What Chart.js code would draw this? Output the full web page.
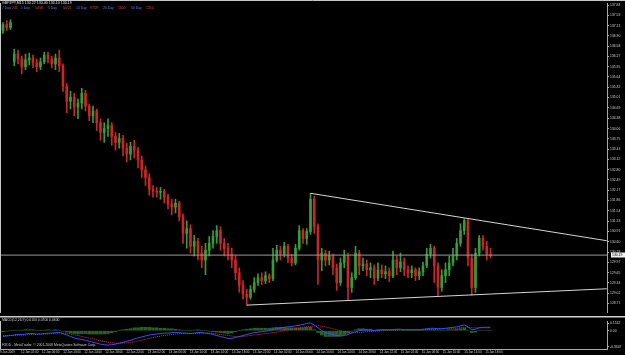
<!DOCTYPE html>
<html>
<head>
<meta charset="utf-8">
<script src="https://cdn.jsdelivr.net/npm/chart.js@4.4.1/dist/chart.umd.min.js"></script>
<style>
  html, body { margin: 0; padding: 0; background: #000; }
  #wrap { position: relative; width: 625px; height: 355px; overflow: hidden; background: #000;
          font-family: "Liberation Sans", Arial, sans-serif; }
  canvas { position: absolute; left: 0; }
  #main { top: 0; }
  #ind { top: 318px; }
  .line { position: absolute; left: 0; width: 625px; height: 1px; }
  .txt { position: absolute; white-space: nowrap; line-height: 1; }
</style>
</head>
<body>
<div id="wrap">
  <canvas id="main" width="625" height="316"></canvas>
  <div class="line" style="top:316px;background:#d0d0d0"></div>
  <div class="line" style="top:317px;background:#6a6a6a"></div>
  <canvas id="ind" width="625" height="37"></canvas>
  <div id="head" class="txt" style="left:2px;top:2px;font-size:3.6px;color:#e6e6e6"></div>
  <div id="stats"></div>
  <div id="indTitle" class="txt" style="left:2px;top:319px;font-size:3.4px;color:#d0d0d0"></div>
  <div id="foot" class="txt" style="left:2px;top:344px;font-size:3.4px;color:#c8c8c8">FXDD - MetaTrader, © 2001-2008 MetaQuotes Software Corp.</div>
</div>
<script>
// GBPJPY M15, 9-15 Jan 2009
const symbol = 'GBPJPY,M15';

const opens = [
  137.06, 137.24, 137.15, 136.10, 136.34, 136.19, 135.95, 136.16, 136.22, 136.07,
  135.95, 136.10, 136.31, 136.19, 136.04, 136.22, 135.98, 135.35, 134.90, 135.02,
  134.72, 134.84, 135.14, 134.75, 134.45, 134.60, 134.24, 133.94, 134.06, 134.15,
  133.82, 133.64, 133.76, 133.46, 133.28, 133.52, 133.40, 133.10, 132.80, 132.56,
  132.20, 132.14, 132.11, 132.14, 131.96, 131.75, 131.66, 131.78, 131.36, 130.85,
  131.00, 130.46, 130.61, 130.25, 130.04, 130.34, 130.55, 130.76, 130.94, 130.55,
  130.40, 130.22, 130.04, 129.65, 129.26, 128.99, 128.90, 129.14, 129.35, 129.50,
  129.41, 129.56, 129.47, 130.04, 130.34, 130.22, 130.46, 130.10, 129.95, 130.40,
  130.94, 130.70, 130.91, 131.90, 131.06, 130.04, 130.25, 130.04, 130.16, 129.80,
  129.35, 129.95, 130.16, 129.20, 129.50, 130.25, 129.86, 129.92, 129.74, 129.80,
  129.50, 129.74, 129.62, 129.68, 129.56, 130.04, 129.80, 129.98, 129.74, 129.65,
  129.74, 129.56, 129.68, 129.86, 130.22, 130.40, 129.86, 129.20, 129.56, 129.74,
  129.95, 130.16, 130.55, 130.94, 131.24, 130.10, 129.20, 130.25, 130.70, 130.46,
  130.22
];
const highs = [
  137.30, 137.36, 137.39, 136.49, 136.46, 136.28, 136.34, 136.37, 136.31, 136.19,
  136.22, 136.40, 136.40, 136.28, 136.34, 136.46, 136.04, 135.44, 135.20, 135.14,
  134.96, 135.29, 135.23, 134.81, 134.75, 134.66, 134.36, 134.24, 134.36, 134.24,
  133.94, 133.91, 133.85, 133.61, 133.64, 133.70, 133.49, 133.22, 132.92, 132.68,
  132.32, 132.26, 132.26, 132.20, 132.05, 131.90, 131.90, 131.84, 131.45, 131.24,
  131.12, 130.79, 130.70, 130.46, 130.55, 130.76, 130.94, 131.09, 131.06, 130.70,
  130.55, 130.40, 130.16, 129.80, 129.41, 129.14, 129.26, 129.50, 129.62, 129.65,
  129.68, 129.62, 130.40, 130.49, 130.46, 130.58, 130.52, 130.22, 130.52, 131.09,
  131.00, 131.00, 132.08, 131.99, 131.15, 130.40, 130.34, 130.31, 130.22, 129.92,
  130.10, 130.34, 130.25, 129.65, 130.46, 130.34, 130.10, 130.04, 129.95, 129.89,
  129.95, 129.89, 129.86, 129.80, 130.31, 130.16, 130.25, 130.10, 129.86, 129.86,
  129.80, 129.80, 129.98, 130.40, 130.52, 130.46, 129.95, 129.74, 129.95, 130.16,
  130.40, 130.70, 131.15, 131.30, 131.30, 130.22, 130.40, 130.79, 130.79, 130.61,
  130.40
];
const lows = [
  136.97, 137.06, 137.09, 135.98, 136.04, 135.74, 135.86, 136.01, 135.92, 135.80,
  135.86, 136.04, 136.07, 135.92, 135.86, 135.80, 135.20, 134.54, 134.66, 134.45,
  134.36, 134.66, 134.60, 134.30, 134.24, 134.00, 133.70, 133.64, 133.82, 133.55,
  133.40, 133.46, 133.22, 133.04, 133.10, 133.16, 132.86, 132.56, 132.32, 132.02,
  131.96, 131.96, 131.90, 131.78, 131.60, 131.42, 131.48, 131.24, 130.55, 130.40,
  130.25, 130.16, 130.04, 129.80, 129.59, 130.16, 130.40, 130.55, 130.34, 130.16,
  130.04, 129.80, 129.44, 129.05, 128.84, 128.66, 128.84, 129.05, 129.26, 129.29,
  129.32, 129.35, 129.41, 129.98, 130.04, 130.13, 129.95, 129.86, 129.89, 130.34,
  130.55, 130.52, 130.82, 130.85, 129.29, 129.71, 129.86, 129.89, 129.59, 129.11,
  129.26, 129.80, 128.81, 129.05, 129.44, 129.59, 129.71, 129.56, 129.50, 129.29,
  129.41, 129.50, 129.47, 129.38, 129.50, 129.59, 129.68, 129.56, 129.50, 129.50,
  129.41, 129.44, 129.56, 129.80, 130.10, 129.35, 128.96, 129.08, 129.35, 129.56,
  129.86, 130.04, 130.46, 130.82, 129.86, 128.96, 129.05, 130.16, 130.34, 130.04,
  130.10
];
const closes = [
  137.24, 137.15, 137.30, 136.34, 136.19, 135.95, 136.16, 136.22, 136.07, 135.95,
  136.10, 136.31, 136.19, 136.04, 136.22, 135.98, 135.35, 134.90, 135.02, 134.72,
  134.84, 135.14, 134.75, 134.45, 134.60, 134.24, 133.94, 134.06, 134.15, 133.82,
  133.64, 133.76, 133.46, 133.28, 133.52, 133.40, 133.10, 132.80, 132.56, 132.20,
  132.14, 132.11, 132.14, 131.96, 131.75, 131.66, 131.78, 131.36, 130.85, 131.00,
  130.46, 130.61, 130.25, 130.04, 130.34, 130.55, 130.76, 130.94, 130.55, 130.40,
  130.22, 130.04, 129.65, 129.26, 128.99, 128.90, 129.14, 129.35, 129.50, 129.41,
  129.56, 129.47, 130.04, 130.34, 130.22, 130.46, 130.10, 129.95, 130.40, 130.94,
  130.70, 130.91, 131.90, 131.06, 130.04, 130.25, 130.04, 130.16, 129.80, 129.35,
  129.95, 130.16, 129.20, 129.50, 130.25, 129.86, 129.92, 129.74, 129.80, 129.50,
  129.74, 129.62, 129.68, 129.56, 130.04, 129.80, 129.98, 129.74, 129.65, 129.74,
  129.56, 129.68, 129.86, 130.22, 130.40, 129.86, 129.20, 129.56, 129.74, 129.95,
  130.16, 130.55, 130.94, 131.24, 130.10, 129.20, 130.25, 130.70, 130.46, 130.22,
  130.19
];

// MACD(12,26,9) panel
const macdMain = [
  -0.12, -0.11, -0.10, -0.09, -0.08, -0.08, -0.07, -0.06, -0.06, -0.07,
  -0.07, -0.06, -0.05, -0.05, -0.04, -0.04, -0.06, -0.09, -0.12, -0.15,
  -0.17, -0.18, -0.20, -0.22, -0.24, -0.26, -0.28, -0.29, -0.30, -0.29,
  -0.28, -0.26, -0.24, -0.22, -0.20, -0.17, -0.15, -0.13, -0.11, -0.09,
  -0.08, -0.07, -0.06, -0.05, -0.05, -0.04, -0.04, -0.04, -0.05, -0.05,
  -0.06, -0.05, -0.04, -0.04, -0.05, -0.06, -0.08, -0.10, -0.12, -0.14,
  -0.16, -0.16, -0.14, -0.12, -0.10, -0.08, -0.06, -0.04, -0.03, -0.02,
  -0.01, 0.00, 0.02, 0.04, 0.06, 0.07, 0.08, 0.09, 0.10, 0.11,
  0.13, 0.15, 0.16, 0.12, 0.06, 0.00, -0.04, -0.06, -0.08, -0.10,
  -0.11, -0.10, -0.08, -0.05, -0.02, 0.00, 0.01, 0.01, 0.01, 0.00,
  0.01, 0.02, 0.02, 0.02, 0.02, 0.03, 0.03, 0.02, 0.02, 0.02,
  0.02, 0.02, 0.03, 0.04, 0.05, 0.05, 0.04, 0.04, 0.05, 0.06,
  0.07, 0.08, 0.10, 0.12, 0.08, 0.02, 0.03, 0.06, 0.07, 0.07,
  0.07
];
const macdSignal = [
  -0.10, -0.10, -0.10, -0.10, -0.09, -0.09, -0.09, -0.08, -0.08, -0.08,
  -0.07, -0.07, -0.07, -0.06, -0.06, -0.05, -0.05, -0.06, -0.07, -0.09,
  -0.10, -0.12, -0.14, -0.15, -0.17, -0.19, -0.21, -0.22, -0.24, -0.25,
  -0.26, -0.26, -0.26, -0.25, -0.24, -0.23, -0.21, -0.20, -0.18, -0.16,
  -0.14, -0.13, -0.11, -0.10, -0.09, -0.08, -0.07, -0.06, -0.06, -0.06,
  -0.06, -0.06, -0.06, -0.05, -0.05, -0.05, -0.06, -0.07, -0.08, -0.09,
  -0.10, -0.11, -0.12, -0.12, -0.12, -0.11, -0.10, -0.09, -0.08, -0.07,
  -0.06, -0.05, -0.04, -0.03, -0.01, 0.00, 0.02, 0.03, 0.04, 0.05,
  0.07, 0.08, 0.09, 0.10, 0.10, 0.09, 0.08, 0.06, 0.04, 0.02,
  0.00, -0.02, -0.03, -0.04, -0.04, -0.04, -0.03, -0.02, -0.02, -0.01,
  -0.01, 0.00, 0.00, 0.01, 0.01, 0.01, 0.02, 0.02, 0.02, 0.02,
  0.02, 0.02, 0.02, 0.02, 0.03, 0.03, 0.03, 0.04, 0.04, 0.04,
  0.05, 0.05, 0.06, 0.07, 0.07, 0.06, 0.06, 0.06, 0.06, 0.06,
  0.06
];
const macdHist = [
  -0.02, -0.01, 0.00, 0.01, 0.01, 0.01, 0.02, 0.02, 0.02, 0.01,
  0.00, 0.01, 0.02, 0.01, 0.02, 0.01, -0.01, -0.03, -0.05, -0.06,
  -0.07, -0.06, -0.06, -0.07, -0.07, -0.07, -0.07, -0.07, -0.06, -0.04,
  -0.02, 0.00, 0.02, 0.03, 0.04, 0.06, 0.06, 0.07, 0.07, 0.07,
  0.06, 0.06, 0.05, 0.05, 0.04, 0.04, 0.03, 0.02, 0.01, 0.01,
  0.00, 0.01, 0.02, 0.01, 0.00, -0.01, -0.02, -0.03, -0.04, -0.05,
  -0.06, -0.05, -0.02, 0.00, 0.02, 0.03, 0.04, 0.05, 0.05, 0.05,
  0.05, 0.05, 0.06, 0.07, 0.07, 0.07, 0.06, 0.06, 0.06, 0.06,
  0.06, 0.07, 0.07, 0.02, -0.04, -0.09, -0.12, -0.12, -0.12, -0.12,
  -0.11, -0.08, -0.05, -0.01, 0.02, 0.04, 0.04, 0.03, 0.03, 0.01,
  0.02, 0.02, 0.02, 0.01, 0.01, 0.02, 0.01, 0.00, 0.00, 0.00,
  0.00, 0.00, 0.01, 0.02, 0.02, 0.02, 0.01, 0.00, 0.01, 0.02,
  0.02, 0.03, 0.04, 0.05, 0.01, -0.04, -0.03, 0.00, 0.01, 0.01,
  0.01
];

// drawn objects: bid line and the two trendlines (bar index, price)
const bidPrice = 130.19;
const upperTrend = [{ x: 82, y: 132.08 }, { x: 161, y: 130.63 }];
const lowerTrend = [{ x: 65, y: 128.66 }, { x: 161, y: 129.16 }];

// axis labels
const priceTicks = [
  137.84, 137.53, 137.21, 136.90, 136.58, 136.27, 135.95, 135.64, 135.32, 135.01,
  134.69, 134.38, 134.06, 133.75, 133.43, 133.12, 132.80, 132.49, 132.17, 131.86,
  131.54, 131.23, 130.91, 130.60, 130.28, 129.97, 129.65, 129.34, 129.02, 128.71
];
const macdTicks = [0.1512, 0, -0.3347];
const timeTickBars = [-0.8, 4.8, 10.4, 16.1, 21.7, 27.3, 32.9, 38.6, 44.2, 49.8, 55.4, 61.1,
  66.7, 72.3, 78.0, 83.6, 89.2, 94.8, 100.5, 106.1, 111.7, 117.3, 123.0, 128.6];
const timeLabels = ['9 Jan 2009', '12 Jan 02:00', '12 Jan 06:00', '12 Jan 10:00', '12 Jan 14:00',
  '12 Jan 18:00', '12 Jan 22:00', '13 Jan 02:00', '13 Jan 06:00', '13 Jan 10:00', '13 Jan 14:00',
  '13 Jan 18:00', '13 Jan 22:00', '14 Jan 02:00', '14 Jan 06:00', '14 Jan 10:00', '14 Jan 14:00',
  '14 Jan 18:00', '14 Jan 22:00', '15 Jan 02:00', '15 Jan 06:00', '15 Jan 10:00', '15 Jan 14:00',
  '15 Jan 18:00'];

// range indicator in the header row
const statNames = ['7 Day', '1 Day', '5 Day', '10 Day', '20 Day', '50 Day'];
const statValues = ['235', '54/46', '50/22', '97/29', '1100', '1250'];

// ---- layout ----
const X_MIN = -0.8, X_MAX = 161.07;
const AXIS_W = 18;
const BULL = '#3a9a3a', BEAR = '#c42828';
const AXIS_COL = '#a8a8a8', LABEL_COL = '#cfcfcf';
const statX = [2, 21, 48, 76, 103, 131];
const statValX = [12, 35, 63, 90, 118, 146];

Chart.defaults.font.family = '"Liberation Sans", Arial, sans-serif';
Chart.defaults.animation = false;

const last = closes.length - 1;
document.getElementById('head').textContent =
  `${symbol}  ${opens[last].toFixed(2)} ${highs[last].toFixed(2)} ${lows[last].toFixed(2)} ${closes[last].toFixed(2)}`;
const statsEl = document.getElementById('stats');
statNames.forEach((n, i) => {
  const a = document.createElement('div');
  a.className = 'txt';
  a.style.cssText = `left:${statX[i]}px;top:7px;font-size:3.4px;color:#5a7cff`;
  a.textContent = n;
  statsEl.appendChild(a);
  const b = document.createElement('div');
  b.className = 'txt';
  b.style.cssText = `left:${statValX[i]}px;top:7px;font-size:3.4px;color:#e04848`;
  b.textContent = statValues[i];
  statsEl.appendChild(b);
});
document.getElementById('indTitle').textContent =
  `MACD(12,26,9) ${macdHist[last].toFixed(4)} ${macdMain[last].toFixed(4)} ${macdSignal[last].toFixed(4)}`;

const candleColors = closes.map((c, i) => (c >= opens[i] ? BULL : BEAR));

const framePlugin = {
  id: 'frame',
  afterDraw(chart) {
    const { ctx, chartArea } = chart;
    ctx.save();
    ctx.strokeStyle = '#c8c8c8';
    ctx.lineWidth = 1;
    ctx.beginPath();
    ctx.moveTo(0.5, chartArea.top);
    ctx.lineTo(0.5, chartArea.bottom);
    if (chart.canvas.id === 'main') {
      ctx.moveTo(0, 0.5);
      ctx.lineTo(chart.width, 0.5);
    }
    ctx.stroke();
    if (chart.canvas.id === 'main') {
      const y = chart.scales.y.getPixelForValue(bidPrice);
      const x0 = chartArea.right + 4;
      ctx.fillStyle = '#f2f2f2';
      ctx.fillRect(x0, Math.round(y) - 2.5, chart.width - x0, 5);
      ctx.fillStyle = '#000';
      ctx.font = '3.4px "Liberation Sans", Arial, sans-serif';
      ctx.textBaseline = 'middle';
      ctx.fillText(bidPrice.toFixed(2), x0 + 1, Math.round(y));
    }
    ctx.restore();
  }
};

const fixWidth = (s) => { s.width = AXIS_W; };

new Chart(document.getElementById('main'), {
  type: 'bar',
  data: {
    datasets: [
      {
        label: 'bid',
        type: 'line',
        data: [{ x: X_MIN, y: bidPrice }, { x: X_MAX, y: bidPrice }],
        borderColor: '#9a9a9a', borderWidth: 1, pointRadius: 0
      },
      {
        label: 'upper',
        type: 'line',
        data: upperTrend,
        borderColor: '#d4d4d4', borderWidth: 1, pointRadius: 0
      },
      {
        label: 'lower',
        type: 'line',
        data: lowerTrend,
        borderColor: '#d4d4d4', borderWidth: 1, pointRadius: 0
      },
      {
        label: 'wick',
        data: lows.map((l, i) => ({ x: i, y: [l, highs[i]] })),
        backgroundColor: candleColors,
        barThickness: 1,
        grouped: false
      },
      {
        label: 'body',
        data: opens.map((o, i) => ({ x: i, y: [o, closes[i]] })),
        backgroundColor: candleColors,
        barThickness: 2,
        minBarLength: 1,
        grouped: false
      }
    ]
  },
  options: {
    responsive: false,
    devicePixelRatio: 1,
    layout: { padding: 0 },
    plugins: { legend: { display: false }, tooltip: { enabled: false } },
    scales: {
      x: { type: 'linear', min: X_MIN, max: X_MAX, offset: false, display: false },
      y: {
        position: 'right',
        min: 128.42,
        max: 137.90,
        afterFit: fixWidth,
        afterBuildTicks: (s) => { s.ticks = priceTicks.map(v => ({ value: v })); },
        ticks: {
          autoSkip: false, padding: 1, color: LABEL_COL,
          font: { size: 3.4 },
          callback: (v) => v.toFixed(2)
        },
        grid: { drawOnChartArea: false, tickLength: 2, color: AXIS_COL },
        border: { color: AXIS_COL }
      }
    }
  },
  plugins: [framePlugin]
});

new Chart(document.getElementById('ind'), {
  type: 'bar',
  data: {
    datasets: [
      {
        label: 'main',
        type: 'line',
        data: macdMain.map((v, i) => ({ x: i, y: v })),
        borderColor: '#3a4cff', borderWidth: 1, pointRadius: 0
      },
      {
        label: 'signal',
        type: 'line',
        data: macdSignal.map((v, i) => ({ x: i, y: v })),
        borderColor: '#e03030', borderWidth: 1, borderDash: [1, 1], pointRadius: 0
      },
      {
        label: 'hist',
        data: macdHist.map((v, i) => ({ x: i, y: v })),
        backgroundColor: '#2a5e2a',
        barThickness: 3
      }
    ]
  },
  options: {
    responsive: false,
    devicePixelRatio: 1,
    layout: { padding: 0 },
    plugins: { legend: { display: false }, tooltip: { enabled: false } },
    scales: {
      x: {
        type: 'linear', min: X_MIN, max: X_MAX, offset: false,
        afterFit: (s) => { s.height = 6; },
        afterBuildTicks: (s) => { s.ticks = timeTickBars.map(v => ({ value: v })); },
        ticks: {
          autoSkip: false, maxRotation: 0, align: 'start', padding: 0,
          color: LABEL_COL, font: { size: 3 },
          callback: (v, i) => timeLabels[i]
        },
        grid: { drawOnChartArea: false, offset: false, tickLength: 1, color: AXIS_COL },
        border: { color: AXIS_COL }
      },
      y: {
        position: 'right',
        min: -0.38,
        max: 0.20,
        afterFit: fixWidth,
        afterBuildTicks: (s) => { s.ticks = macdTicks.map(v => ({ value: v })); },
        ticks: {
          autoSkip: false, padding: 1, color: LABEL_COL,
          font: { size: 3.4 },
          callback: (v) => (v === 0 ? '0.00' : v.toFixed(4))
        },
        grid: { drawOnChartArea: false, tickLength: 2, color: AXIS_COL },
        border: { color: AXIS_COL }
      }
    }
  },
  plugins: [framePlugin]
});
</script>
</body>
</html>
